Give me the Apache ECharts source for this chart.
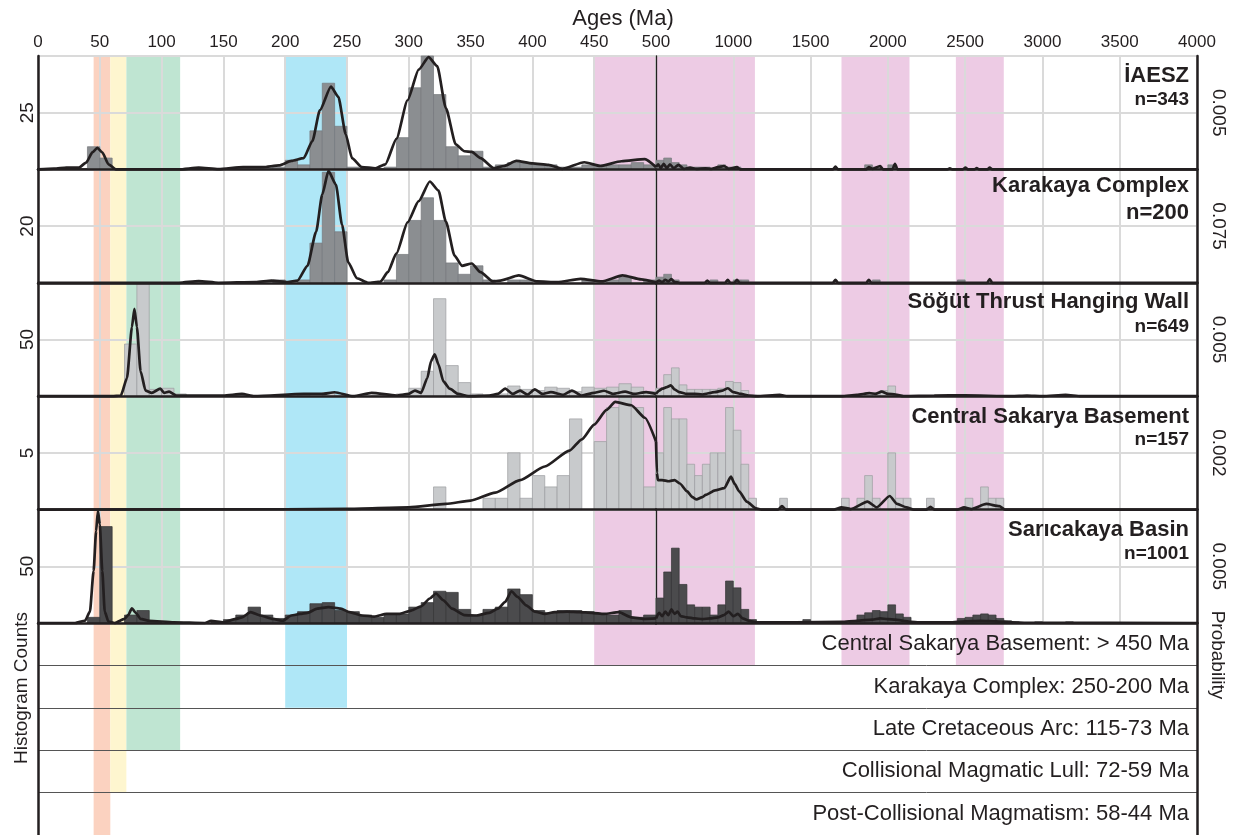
<!DOCTYPE html>
<html><head><meta charset="utf-8">
<script src="https://cdn.jsdelivr.net/npm/echarts@6/dist/echarts.min.js"></script>
<style>html,body{margin:0;padding:0;background:#fff}#c{width:1233px;height:835px}</style>
</head><body><div id="c"></div>
<script>
// ---------------- DATA ----------------
const panelNames = ['İAESZ', 'Karakaya Complex', 'Söğüt Thrust Hanging Wall', 'Central Sakarya Basement', 'Sarıcakaya Basin'];
const panelCounts = ['n=343', 'n=200', 'n=649', 'n=157', 'n=1001'];
const countMax = [50, 40, 100, 10, 100];
const probMax = [0.01, 0.15, 0.01, 0.004, 0.01];
const youngBinWidth = 10;   // Ma, 0-500 Ma part
const oldBinWidth = 50;     // Ma, 500-4000 Ma part
const ageSplit = 500, ageMax = 4000, youngTickStep = 50, oldTickStep = 500;

// histogram bins: [bin start (Ma), count]
const iaeszYoungBins = [[40,10],[50,5],[160,1],[170,1],[180,1],[190,1],[200,4],[210,2],[220,17],[230,38],[240,19],[250,1],[280,1],[290,14],[300,36],[310,50],[320,33],[330,10],[340,6],[350,8],[360,1],[370,2],[380,3],[390,3],[400,2],[410,2],[420,1],[430,1],[440,2],[450,2],[460,2],[470,2],[480,3],[490,2]];
const iaeszOldBins = [[500,4],[550,5],[600,3],[650,2],[700,1],[750,1],[800,1],[900,2],[950,1],[1000,1],[1850,2],[1900,1],[2000,2]];
const karakayaYoungBins = [[190,1],[210,1],[220,14],[230,39],[240,18],[280,1],[290,10],[300,22],[310,30],[320,22],[330,7],[340,3],[350,6],[360,1],[380,1],[390,1],[440,1],[460,1],[470,2],[490,1]];
const karakayaOldBins = [[500,2],[550,3],[600,1],[850,1],[1000,1],[1050,1],[1900,1],[2450,1]];
const sogutYoungBins = [[70,46],[80,100],[90,6],[100,7],[110,2],[160,1],[210,1],[230,3],[240,1],[270,1],[290,2],[300,7],[310,22],[320,86],[330,27],[340,12],[350,2],[360,1],[370,2],[380,9],[390,6],[400,5],[410,8],[420,7],[430,4],[440,8],[450,7],[460,8],[470,11],[480,8],[490,4]];
const sogutOldBins = [[500,7],[550,19],[600,25],[650,10],[700,6],[750,6],[800,6],[850,6],[900,7],[950,13],[1000,12],[1050,5],[1100,1],[1850,3],[1900,3],[1950,5],[2000,9],[2050,1]];
const sakaryaYoungBins = [[320,2],[360,1],[370,1],[380,5],[390,1],[400,3],[410,2],[420,3],[430,8],[450,6],[460,9],[470,10],[480,9],[490,2]];
const sakaryaOldBins = [[500,5],[550,9],[600,8],[650,8],[700,4],[750,3],[800,4],[850,5],[900,5],[950,9],[1000,7],[1050,4],[1100,1],[1300,1],[1700,1],[1800,1],[1850,3],[1900,1],[2000,5],[2050,1],[2100,1],[2250,1],[2500,1],[2600,2],[2650,1],[2700,1]];
const saricakayaYoungBins = [[40,5],[50,85],[70,7],[80,11],[90,1],[140,1],[150,3],[160,7],[170,14],[180,7],[190,4],[200,7],[210,10],[220,17],[230,18],[240,11],[250,10],[260,7],[270,5],[280,8],[290,8],[300,14],[310,18],[320,28],[330,27],[340,12],[350,7],[360,12],[370,14],[380,30],[390,25],[400,11],[410,9],[420,11],[430,11],[440,10],[450,8],[460,7],[470,11],[480,5],[490,7]];
const saricakayaOldBins = [[500,22],[550,45],[600,66],[650,34],[700,16],[750,14],[800,14],[850,7],[900,16],[950,37],[1000,31],[1050,12],[1100,3],[1150,1],[1250,1],[1450,3],[1750,2],[1800,7],[1850,9],[1900,11],[1950,10],[2000,16],[2050,8],[2100,5],[2150,1],[2250,1],[2450,4],[2500,5],[2550,7],[2600,8],[2650,7],[2700,4],[2750,2],[2800,1],[2950,1],[3150,1]];

// probability density curves: [age (Ma), probability]
const iaeszKdeYoung = [[0,0],[13,0.00006],[23,0.00015],[33,0.00015],[39,0.0006],[44,0.0015],[48,0.0019],[52,0.0015],[57,0.00045],[63,0],[91,0],[114,0],[130,0.00015],[146,0.00003],[166,0.0002],[182,0.0002],[195,0.00035],[205,0.00075],[215,0.001],[222,0.0025],[228,0.0052],[237,0.0073],[243,0.0064],[249,0.0031],[254,0.001],[262,0.0002],[273,0.0001],[281,0.00045],[290,0.0027],[299,0.0061],[308,0.0088],[316,0.0099],[323,0.0091],[330,0.0054],[338,0.0022],[345,0.0016],[351,0.00155],[358,0.001],[369,0.0001],[377,0.0003],[387,0.00075],[400,0.00054],[413,0.0004],[424,0.00005],[442,0.00063],[455,0.0003],[472,0.00072],[491,0.0009],[500,0.0002]];
const iaeszKdeOld = [[500,0.0002],[515,0.00045],[530,0.0001],[550,0.0005],[570,0.0001],[590,0.00045],[615,0.0001],[645,0.0004],[680,0.00005],[720,0.00015],[760,0.00005],[820,0.0001],[860,0.00005],[900,0.0002],[940,0.0003],[970,0.00005],[1024,0.0002],[1045,0],[1645,0],[1661,0.00025],[1677,0],[1860,0],[1877,0.0002],[1900,0.00005],[1950,0.0003],[1970,0],[2030,0],[2046,0.0005],[2062,0],[2385,0],[2401,0.0001],[2417,0],[2485,0],[2502,0.00015],[2518,0],[2560,0],[2575,0.00012],[2590,0],[2645,0],[2659,0.00015],[2675,0],[4000,0]];
const karakayaKdeYoung = [[0,0],[114,0],[130,0.00225],[146,0],[176,0.0009],[189,0.003],[202,0.0009],[210,0.003],[218,0.0225],[225,0.0675],[230,0.117],[235,0.148],[241,0.13],[246,0.0765],[251,0.027],[258,0.006],[267,0],[277,0.0015],[283,0.014],[290,0.039],[299,0.08],[308,0.108],[317,0.134],[324,0.122],[330,0.081],[337,0.036],[343,0.0225],[351,0.0255],[358,0.014],[368,0.0018],[374,0.003],[389,0.0098],[404,0.0018],[420,0.0009],[439,0.0053],[456,0.0018],[473,0.0098],[488,0.0045],[500,0.0005]];
const karakayaKdeOld = [[500,0.0005],[520,0.003],[540,0.001],[560,0.004],[580,0.002],[600,0.005],[620,0.001],[650,0],[816,0],[832,0.003],[848,0],[948,0],[964,0.004],[980,0],[1008,0],[1024,0.004],[1040,0],[1645,0],[1661,0.004],[1677,0],[1861,0],[1877,0.004],[1893,0],[2643,0],[2659,0.005],[2675,0],[4000,0]];
const sogutKdeYoung = [[0,0],[60,0],[67,0.00006],[72,0.0016],[76,0.0061],[78,0.0077],[80,0.0061],[83,0.0022],[87,0.0005],[92,0.0003],[99,0.00066],[102,0.0003],[106,0.0004],[112,0.00006],[150,0.00006],[165,0.0002],[175,0],[215,0.0002],[230,0.0002],[240,0.00035],[255,0],[270,0.0003],[290,0.00006],[300,0.0002],[305,0.0005],[310,0.0003],[315,0.0016],[318,0.0031],[321,0.0037],[324,0.0028],[328,0.0013],[333,0.00066],[340,0.0002],[348,0],[365,0.00006],[372,0.0002],[378,0.00066],[384,0.0002],[390,0.0005],[396,0.00015],[402,0.0006],[408,0.0002],[415,0.00036],[425,0.00012],[432,0.0005],[440,0.00006],[450,0.0003],[458,0.00048],[465,0.0002],[475,0.0004],[482,0.0002],[492,0.00036],[500,0.0002]];
const sogutKdeOld = [[500,0.0002],[520,0.0005],[540,0.00066],[570,0.0008],[596,0.00096],[620,0.0006],[650,0.00036],[700,0.0002],[750,0.0002],[800,0.00015],[880,0.00036],[930,0.0005],[965,0.0007],[1000,0.00036],[1050,0.0002],[1100,0.00006],[1150,0],[1300,0.00012],[1350,0],[1700,0],[1800,0.00012],[1880,0.00027],[1920,0.0002],[1960,0.0004],[2000,0.0002],[2050,0.00015],[2100,0],[2300,0.00005],[2500,0.00008],[2800,0],[2900,0.00005],[3000,0],[3150,0.00012],[3250,0],[4000,0]];
const sakaryaKdeYoung = [[0,0],[200,0.000012],[250,0.000024],[300,0.00008],[330,0.0002],[350,0.00032],[370,0.0006],[390,0.00104],[410,0.00152],[430,0.00208],[440,0.00248],[450,0.003],[460,0.00352],[467,0.0038],[480,0.00368],[491,0.00324],[500,0.0024]];
const sakaryaKdeOld = [[500,0.0024],[506,0.0013],[512,0.00104],[540,0.00104],[582,0.001],[620,0.00104],[654,0.00092],[702,0.00064],[735,0.00044],[762,0.00036],[800,0.00044],[822,0.00052],[882,0.00068],[942,0.00076],[985,0.00116],[1010,0.0009],[1038,0.00064],[1087,0.00028],[1147,0.00004],[1183,0],[1290,0],[1315,0.00012],[1340,0],[1650,0],[1700,0.00008],[1760,0.00002],[1868,0.00028],[1928,0.00008],[2012,0.00048],[2060,0.0002],[2120,0.00008],[2168,0],[2250,0],[2276,0.0001],[2300,0],[2450,0],[2493,0.00008],[2541,0.00002],[2637,0.0002],[2721,0.00012],[2757,0],[4000,0]];
const saricakayaKdeYoung = [[0,0],[30,0],[38,0.0002],[42,0.001],[45,0.0046],[47,0.0081],[48.5,0.0099],[50,0.0087],[52,0.0046],[54,0.001],[57,0.00012],[62,0],[70,0.00036],[73,0.0007],[76,0.0013],[79,0.0009],[83,0.00036],[90,0.0002],[110,0.00006],[135,0],[140,0.0002],[150,0.00006],[160,0.00036],[165,0.0005],[172,0.00096],[180,0.00066],[190,0.00036],[198,0.0002],[205,0.00066],[212,0.0008],[218,0.0009],[226,0.00126],[235,0.0014],[245,0.00126],[252,0.00096],[262,0.00066],[272,0.00057],[282,0.0008],[292,0.0008],[302,0.0011],[310,0.00147],[317,0.00216],[322,0.0026],[328,0.002],[335,0.00126],[345,0.0007],[355,0.00066],[365,0.0009],[372,0.00126],[378,0.00186],[383,0.0028],[388,0.0023],[395,0.00156],[402,0.001],[410,0.0008],[418,0.00096],[428,0.001],[438,0.00096],[448,0.0009],[458,0.0008],[470,0.00096],[480,0.0005],[490,0.00036],[500,0.0004]];
const saricakayaKdeOld = [[500,0.0004],[520,0.0009],[540,0.0006],[560,0.001],[580,0.0007],[600,0.0012],[620,0.0008],[640,0.001],[660,0.0006],[700,0.0005],[750,0.0004],[800,0.00035],[850,0.0004],[900,0.0005],[940,0.0007],[970,0.001],[1000,0.0006],[1030,0.0008],[1060,0.0004],[1100,0.0002],[1150,0.00005],[1400,0.00005],[1700,0.0001],[1800,0.0002],[1900,0.0003],[1950,0.0004],[2000,0.00035],[2050,0.0003],[2100,0.0002],[2150,0.0001],[2200,0.00005],[2400,0.00005],[2500,0.00015],[2600,0.0002],[2700,0.00015],[2800,0.00005],[2900,0.00002],[4000,0]];

// shaded age bands
const bandStartMa = [45, 58.5, 71.5, 200, 450, 1700, 2440];
const bandEndMa   = [58.5, 71.5, 115, 250, 1140, 2140, 2750];
const bandRowsReached = [5, 4, 3, 2, 1, 1, 1];
const eventLabels = ['Central Sakarya Basement: > 450 Ma', 'Karakaya Complex: 250-200 Ma', 'Late Cretaceous Arc: 115-73 Ma', 'Collisional Magmatic Lull: 72-59 Ma', 'Post-Collisional Magmatism: 58-44 Ma'];

// ---------------- STYLE / LAYOUT ----------------
const bandColors = ['#fbd2c0', '#fef6cf', '#bfe5d2', '#afe7f7', '#edcbe4', '#edcbe4', '#edcbe4'];
const histFill = ['#8b8e91', '#8b8e91', '#c8cacc', '#c8cacc', '#4b4b4d'];
const histStroke = ['#76797c', '#76797c', '#9c9ea0', '#9c9ea0', '#333335'];
const FONT = '"Liberation Sans", Arial, Helvetica, sans-serif';
const INK = '#231f20';
const L = { x0: 38, xb: 656, x1: 1197, top: 56, ph: 113.4, rowH: 43.6 };

const youngBins = [iaeszYoungBins, karakayaYoungBins, sogutYoungBins, sakaryaYoungBins, saricakayaYoungBins];
const oldBins = [iaeszOldBins, karakayaOldBins, sogutOldBins, sakaryaOldBins, saricakayaOldBins];
const kdeYoung = [iaeszKdeYoung, karakayaKdeYoung, sogutKdeYoung, sakaryaKdeYoung, saricakayaKdeYoung];
const kdeOld = [iaeszKdeOld, karakayaKdeOld, sogutKdeOld, sakaryaKdeOld, saricakayaKdeOld];

const grids = [], xAxes = [], yAxes = [], series = [];
const gridLine = { show: true, lineStyle: { color: '#dadada', width: 2 } };
const frame = { show: true, lineStyle: { color: INK, width: 2.5 } };
const noTick = { show: false };

function histRender(bw, fill, stroke) {
  return function (params, api) {
    const s = api.value(0), c = api.value(1);
    const a = api.coord([s, c]), b = api.coord([s + bw, 0]);
    return { type: 'rect', shape: { x: a[0], y: a[1], width: b[0] - a[0], height: b[1] - a[1] },
      style: { fill: fill, stroke: stroke, lineWidth: 0.7 } };
  };
}
function clipTo(rect, cs) {
  return echarts.graphic.clipRectByRect(rect, { x: cs.x, y: cs.y, width: cs.width, height: cs.height });
}

for (let p = 0; p < 5; p++) {
  const top = L.top + p * L.ph;
  grids.push({ left: L.x0, top: top, width: L.xb - L.x0, height: L.ph });
  grids.push({ left: L.xb, top: top, width: L.x1 - L.xb, height: L.ph });
  const gl = 2 * p, gr = 2 * p + 1;
  const labelStyle = { fontSize: 17, color: INK, fontFamily: FONT, margin: 5 };
  xAxes.push({ type: 'value', gridIndex: gl, min: 0, max: ageSplit, interval: youngTickStep, position: 'bottom',
    axisLine: frame, axisTick: noTick, axisLabel: { show: false }, splitLine: { show: false }, z: 6 });
  xAxes.push({ type: 'value', gridIndex: gl, min: 0, max: ageSplit, interval: youngTickStep, position: 'top',
    axisLine: p === 0 ? frame : { show: false }, axisTick: noTick,
    axisLabel: Object.assign({ show: p === 0 }, labelStyle), splitLine: gridLine, z: 1 });
  xAxes.push({ type: 'value', gridIndex: gr, min: ageSplit, max: ageMax, interval: oldTickStep, position: 'bottom',
    axisLine: frame, axisTick: noTick, axisLabel: { show: false }, splitLine: { show: false }, z: 6 });
  xAxes.push({ type: 'value', gridIndex: gr, min: ageSplit, max: ageMax, interval: oldTickStep, position: 'top',
    axisLine: p === 0 ? frame : { show: false }, axisTick: noTick,
    axisLabel: Object.assign({ show: p === 0, showMinLabel: false, formatter: v => String(v) }, labelStyle),
    splitLine: gridLine, z: 1 });

  yAxes.push({ type: 'value', gridIndex: gl, min: 0, max: countMax[p], interval: countMax[p] / 2, position: 'left',
    axisLine: frame, axisTick: noTick,
    axisLabel: { rotate: 90, showMinLabel: false, showMaxLabel: false, fontSize: 19, color: INK, fontFamily: FONT, margin: 1 },
    splitLine: gridLine, z: 2 });
  yAxes.push({ type: 'value', gridIndex: gl, min: 0, max: probMax[p], show: false });
  yAxes.push({ type: 'value', gridIndex: gr, min: 0, max: countMax[p], interval: countMax[p] / 2, position: 'left',
    axisLine: { show: true, lineStyle: { color: INK, width: 1.3 } }, axisTick: noTick, axisLabel: { show: false },
    splitLine: gridLine, z: 2 });
  yAxes.push({ type: 'value', gridIndex: gr, min: 0, max: probMax[p], interval: probMax[p] / 2, position: 'right',
    axisLine: frame, axisTick: noTick,
    axisLabel: { rotate: -90, showMinLabel: false, showMaxLabel: false, formatter: v => String(+v.toFixed(4)),
      fontSize: 19, color: INK, fontFamily: FONT, margin: 12 },
    splitLine: { show: false }, z: 6 });

  series.push({ type: 'custom', xAxisIndex: 4 * p, yAxisIndex: 4 * p, z: 3, silent: true,
    renderItem: histRender(youngBinWidth, histFill[p], histStroke[p]), data: youngBins[p] });
  series.push({ type: 'custom', xAxisIndex: 4 * p + 2, yAxisIndex: 4 * p + 2, z: 3, silent: true,
    renderItem: histRender(oldBinWidth, histFill[p], histStroke[p]), data: oldBins[p] });
  const kdeStyle = { type: 'line', showSymbol: false, symbol: 'none', smooth: 0.2, smoothMonotone: 'x', z: 4, silent: true,
    lineStyle: { color: INK, width: 2.7 }, clip: false };
  series.push(Object.assign({ xAxisIndex: 4 * p, yAxisIndex: 4 * p + 1, data: kdeYoung[p] }, kdeStyle));
  series.push(Object.assign({ xAxisIndex: 4 * p + 2, yAxisIndex: 4 * p + 3, data: kdeOld[p] }, kdeStyle));
}

// background band grids (panels area) : 10, 11
grids.push({ left: L.x0, top: L.top, width: L.xb - L.x0, height: 5 * L.ph });
grids.push({ left: L.xb, top: L.top, width: L.x1 - L.xb, height: 5 * L.ph });
xAxes.push({ type: 'value', gridIndex: 10, min: 0, max: ageSplit, show: false });
xAxes.push({ type: 'value', gridIndex: 11, min: ageSplit, max: ageMax, show: false });
yAxes.push({ type: 'value', gridIndex: 10, min: 0, max: 1, show: false });
yAxes.push({ type: 'value', gridIndex: 11, min: 0, max: 1, show: false });
// timeline grids : 12, 13
const tlTop = L.top + 5 * L.ph;
grids.push({ left: L.x0, top: tlTop, width: L.xb - L.x0, height: 5 * L.rowH });
grids.push({ left: L.xb, top: tlTop, width: L.x1 - L.xb, height: 5 * L.rowH });
xAxes.push({ type: 'value', gridIndex: 12, min: 0, max: ageSplit, show: false });
xAxes.push({ type: 'value', gridIndex: 13, min: ageSplit, max: ageMax, show: false });
const rowLine = { show: true, lineStyle: { color: '#555', width: 1 } };
yAxes.push({ type: 'value', gridIndex: 12, inverse: true, min: 0, max: eventLabels.length, interval: 1, position: 'left',
  axisLine: frame, axisTick: noTick, axisLabel: { show: false }, splitLine: rowLine, z: 1 });
yAxes.push({ type: 'value', gridIndex: 13, inverse: true, min: 0, max: eventLabels.length, interval: 1, position: 'right',
  axisLine: frame, axisTick: noTick, axisLabel: { show: false }, splitLine: rowLine, z: 1 });

const bandData = bandStartMa.map((s, i) => ({ value: [s, bandEndMa[i], bandRowsReached[i]], itemStyle: { color: bandColors[i] } }));
function bandPanelRender(params, api) {
  const a = api.coord([api.value(0), 1]), b = api.coord([api.value(1), 0]);
  const r = clipTo({ x: a[0], y: a[1], width: b[0] - a[0], height: b[1] - a[1] }, params.coordSys);
  return r ? { type: 'rect', shape: r, style: { fill: api.visual('color') } } : null;
}
function bandTimelineRender(params, api) {
  const a = api.coord([api.value(0), 0]), b = api.coord([api.value(1), api.value(2)]);
  const r = clipTo({ x: a[0], y: a[1], width: b[0] - a[0], height: b[1] - a[1] }, params.coordSys);
  return r ? { type: 'rect', shape: r, style: { fill: api.visual('color') } } : null;
}
[[20, bandPanelRender], [21, bandPanelRender], [22, bandTimelineRender], [23, bandTimelineRender]].forEach(([ix, fn]) => {
  series.push({ type: 'custom', xAxisIndex: ix, yAxisIndex: ix, z: 0, silent: true, renderItem: fn, data: bandData });
});
// event row labels, placed through the timeline axes
function eventLabelRender(params, api) {
  const pt = api.coord([api.value(0), api.value(1)]);
  return { type: 'text', x: pt[0] - 8, y: pt[1],
    style: { text: eventLabels[params.dataIndex], fill: INK, font: '22px ' + FONT, align: 'right', verticalAlign: 'middle', textAlign: 'right', textVerticalAlign: 'middle' } };
}
series.push({ type: 'custom', xAxisIndex: 23, yAxisIndex: 23, z: 5, silent: true, clip: false, renderItem: eventLabelRender,
  data: eventLabels.map((t, i) => [ageMax, i + 0.5]) });

// texts
const graphic = [];
const titleDy = [20, 17, 19, 21, 20];
const nSize = [19, 22, 19, 19, 19];
for (let p = 0; p < 5; p++) {
  const top = L.top + p * L.ph;
  graphic.push({ type: 'text', x: 1189, y: top + titleDy[p], z: 10,
    style: { text: panelNames[p], fill: INK, font: 'bold 22px ' + FONT, align: 'right', verticalAlign: 'middle', textAlign: 'right', textVerticalAlign: 'middle' } });
  graphic.push({ type: 'text', x: 1189, y: top + 44, z: 10,
    style: { text: panelCounts[p], fill: INK, font: 'bold ' + nSize[p] + 'px ' + FONT, align: 'right', verticalAlign: 'middle', textAlign: 'right', textVerticalAlign: 'middle' } });
}
graphic.push({ type: 'text', x: 623, y: 19, style: { text: 'Ages (Ma)', fill: INK, font: '22px ' + FONT, align: 'center', verticalAlign: 'middle', textAlign: 'center', textVerticalAlign: 'middle' } });
graphic.push({ type: 'text', x: 22, y: 688, rotation: Math.PI / 2, style: { text: 'Histogram Counts', fill: INK, font: '19px ' + FONT, align: 'center', verticalAlign: 'middle', textAlign: 'center', textVerticalAlign: 'middle' } });
graphic.push({ type: 'text', x: 1217, y: 655, rotation: -Math.PI / 2, style: { text: 'Probability', fill: INK, font: '19px ' + FONT, align: 'center', verticalAlign: 'middle', textAlign: 'center', textVerticalAlign: 'middle' } });

const chart = echarts.init(document.getElementById('c'), null, { renderer: 'canvas' });
chart.setOption({ animation: false, backgroundColor: '#fff', grid: grids, xAxis: xAxes, yAxis: yAxes, series: series, graphic: graphic });
</script></body></html>
